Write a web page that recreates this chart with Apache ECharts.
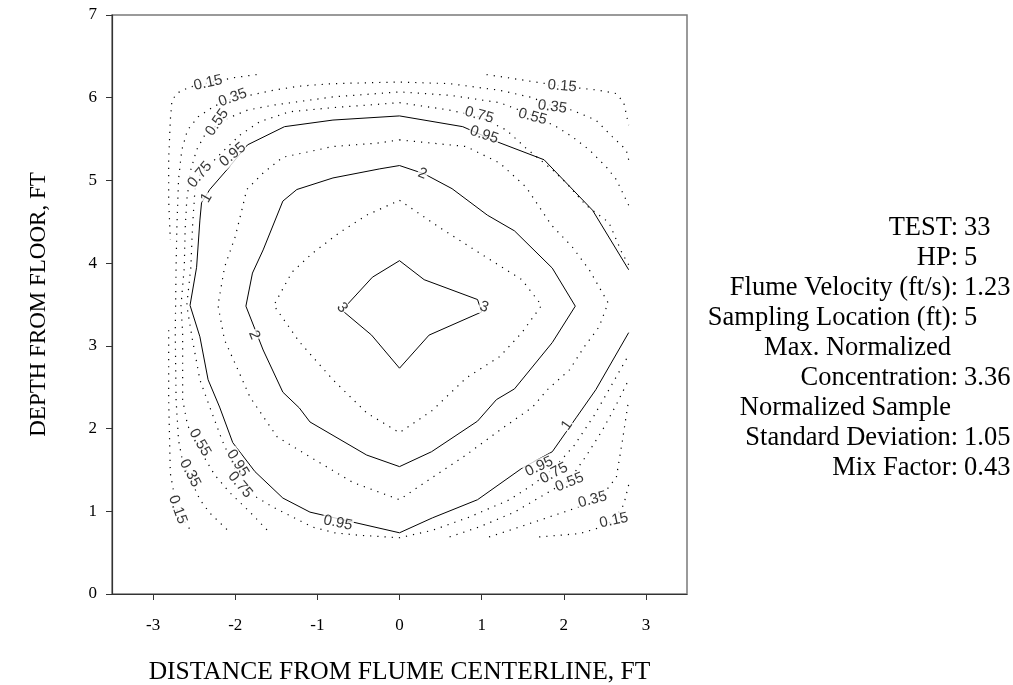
<!DOCTYPE html>
<html><head><meta charset="utf-8">
<script src="https://cdn.jsdelivr.net/npm/echarts@6.0.0/dist/echarts.min.js"></script>
<style>html,body{margin:0;padding:0;background:#fff}#c{width:1013px;height:685px}</style>
</head><body><div id="c"></div><script>
// ---- tick labels ----
const xTicks = [-3, -2, -1, 0, 1, 2, 3];
const yTicks = [0, 1, 2, 3, 4, 5, 6, 7];

// ---- contour polylines (data units: ft) ----
const c3 = [[0,4.03],[0.30,3.80],[0.95,3.56],[1.00,3.41],[0.36,3.13],[0,2.73],[-0.34,3.13],[-0.70,3.43],[-0.33,3.83],[0,4.03]];
const c25 = [[0,4.76],[0.49,4.43],[1.01,4.10],[1.49,3.80],[1.73,3.49],[1.49,3.16],[1.22,2.87],[0.81,2.61],[0.40,2.22],[0,1.95],[-0.40,2.19],[-0.81,2.59],[-1.22,3.05],[-1.53,3.49],[-1.31,3.89],[-1.06,4.12],[-0.73,4.37],[-0.40,4.58],[0,4.76]];
const c2 = [[0,5.18],[0.30,5.08],[0.64,4.90],[1.07,4.58],[1.40,4.39],[1.86,3.94],[2.14,3.48],[1.86,3.04],[1.40,2.48],[1.18,2.35],[0.95,2.09],[0.39,1.72],[0,1.54],[-0.40,1.68],[-1.09,2.08],[-1.22,2.25],[-1.42,2.44],[-1.66,2.95],[-1.87,3.48],[-1.79,3.88],[-1.66,4.16],[-1.42,4.75],[-1.25,4.89],[-0.81,5.03],[-0.24,5.14],[0,5.18]];
const c15 = [[0,5.49],[0.81,5.41],[1.22,5.21],[1.54,4.92],[1.85,4.46],[2.10,4.20],[2.31,3.92],[2.54,3.52],[2.43,3.23],[2.25,2.99],[2.07,2.71],[1.80,2.47],[1.62,2.26],[1.22,1.98],[0.81,1.68],[0.40,1.41],[0,1.14],[-0.57,1.35],[-1.06,1.64],[-1.49,1.90],[-1.82,2.38],[-1.98,2.74],[-2.13,3.07],[-2.21,3.49],[-2.13,3.95],[-2.00,4.32],[-1.91,4.68],[-1.86,4.89],[-1.66,5.09],[-1.42,5.28],[-0.81,5.41],[-0.28,5.45],[0,5.49]];
const c1 = [[2.79,3.92],[2.35,4.64],[1.76,5.25],[1.18,5.47],[0.77,5.65],[0,5.78],[-0.81,5.73],[-1.40,5.65],[-1.85,5.43],[-2.10,5.13],[-2.31,4.89],[-2.41,4.73],[-2.43,4.52],[-2.47,3.95],[-2.55,3.49],[-2.43,3.11],[-2.33,2.59],[-2.19,2.26],[-2.03,1.83],[-1.76,1.48],[-1.42,1.16],[-1.09,0.99],[-0.57,0.87],[0,0.74],[0.40,0.92],[0.95,1.14],[1.49,1.52],[1.86,1.72],[2.15,2.13],[2.39,2.47],[2.79,3.16]];
const c075 = [[2.79,3.98],[2.71,4.12],[2.55,4.49],[2.27,4.70],[2.03,4.97],[1.86,5.13],[1.54,5.39],[1.30,5.61],[0.97,5.77],[0.61,5.85],[0,5.94],[-0.81,5.88],[-1.34,5.83],[-1.70,5.71],[-1.94,5.55],[-2.13,5.37],[-2.31,5.19],[-2.43,5.07],[-2.49,4.89],[-2.52,4.44],[-2.54,3.95],[-2.59,3.49],[-2.52,3.07],[-2.43,2.59],[-2.31,2.26],[-2.16,1.86],[-2.00,1.50],[-1.74,1.17],[-1.54,1.05],[-1.30,0.93],[-1.06,0.81],[-0.79,0.74],[-0.49,0.71],[0,0.68],[0.40,0.77],[0.85,0.93],[1.34,1.14],[1.62,1.32],[1.88,1.52],[2.13,1.80],[2.37,2.16],[2.55,2.47],[2.79,2.89]];
const c055a = [[2.79,4.70],[2.64,5.01],[2.52,5.16],[2.31,5.37],[2.10,5.53],[1.91,5.65],[1.62,5.79],[1.22,5.94],[0.61,6.03],[0,6.07],[-0.81,6.01],[-1.54,5.91],[-1.85,5.85],[-2.07,5.76],[-2.22,5.67],[-2.37,5.55],[-2.47,5.37],[-2.54,5.13],[-2.59,4.76],[-2.61,4.40],[-2.62,3.95],[-2.66,3.49],[-2.64,3.16],[-2.64,2.35],[-2.58,2.04],[-2.49,1.86],[-2.37,1.64],[-2.25,1.44],[-2.07,1.23],[-1.82,0.99],[-1.58,0.74]];
const c055b = [[0.61,0.69],[0.97,0.81],[1.40,0.99],[1.76,1.20],[2.07,1.38],[2.28,1.68],[2.47,1.98],[2.64,2.29],[2.79,2.59]];
const c035a = [[2.79,5.25],[2.76,5.37],[2.59,5.53],[2.39,5.73],[2.10,5.85],[1.86,5.90],[1.62,6.00],[1.22,6.09],[0.61,6.17],[0,6.19],[-0.81,6.17],[-1.22,6.14],[-1.54,6.09],[-1.82,6.03],[-2.03,5.99],[-2.25,5.90],[-2.45,5.77],[-2.58,5.61],[-2.65,5.37],[-2.69,5.01],[-2.71,4.44],[-2.72,3.95],[-2.73,3.16],[-2.72,2.35],[-2.69,1.86],[-2.64,1.60],[-2.55,1.40],[-2.43,1.14],[-2.31,0.98],[-2.07,0.75]];
const c035b = [[1.09,0.69],[1.34,0.77],[1.79,0.92],[2.15,1.04],[2.35,1.11],[2.49,1.22],[2.64,1.41],[2.71,1.83],[2.79,2.35]];
const c015a = [[-1.74,6.28],[-2.03,6.24],[-2.33,6.18],[-2.55,6.13],[-2.70,6.06],[-2.77,5.97],[-2.79,5.73],[-2.81,5.25],[-2.81,4.76],[-2.79,4.28]];
const c015b = [[-2.81,3.19],[-2.81,2.35],[-2.79,1.46],[-2.71,1.02],[-2.53,0.75]];
const c015c = [[1.06,6.28],[1.46,6.22],[1.98,6.14],[2.43,6.09],[2.64,6.05],[2.73,5.94],[2.79,5.67]];
const c015d = [[1.70,0.69],[2.19,0.73],[2.43,0.80],[2.61,0.89],[2.73,1.08],[2.79,1.32]];

// ---- contour labels: text, position (ft) ----
const labelTexts = ['0.15','0.35','0.55','0.95','0.75','1','2','0.15','0.35','0.75','0.55','0.95','3','3','2','0.55','0.35','0.15','0.95','0.75','0.95','0.95','0.75','0.55','0.35','0.15','1'];
const labelPos = [[-2.33,6.18],[-2.03,6.00],[-2.22,5.70],[-2.03,5.31],[-2.43,5.07],[-2.35,4.79],[0.28,5.08],[1.98,6.14],[1.86,5.89],[0.97,5.79],[1.62,5.77],[1.03,5.55],[-0.70,3.46],[1.03,3.47],[-1.77,3.13],[-2.43,1.83],[-2.55,1.46],[-2.70,1.02],[-1.97,1.58],[-1.94,1.32],[-0.75,0.86],[1.70,1.54],[1.88,1.46],[2.07,1.35],[2.35,1.14],[2.61,0.89],[2.04,2.04]];
const labelAngles = [12,20,55,40,50,60,-22,-5,-8,-15,-15,-18,-50,-20,-68,-60,-62,-70,-58,-50,-12,25,28,22,15,12,55];

// ---- side annotation ----
const infoKeys = ['TEST:','HP:','Flume Velocity (ft/s):','Sampling Location (ft):','Max. Normalized','Concentration:','Normalized Sample','Standard Deviation:','Mix Factor:'];
const infoVals = ['33','5','1.23','5','','3.36','','1.05','0.43'];

const solidSets = [c3, c2, c1];
const dottedSets = [c25, c15, c075, c055a, c055b, c035a, c035b, c015a, c015b, c015c, c015d];

const chart = echarts.init(document.getElementById('c'), null, {renderer: 'canvas'});
const serif = 'Liberation Serif, Times New Roman, serif';
const sans = 'Liberation Sans, Arial, sans-serif';

const series = [];
solidSets.forEach(d => series.push({type:'line', data:d, showSymbol:false, silent:true, z:2,
  lineStyle:{color:'#000', width:1}}));
dottedSets.forEach(d => series.push({type:'line', data:d, showSymbol:false, silent:true, z:2,
  lineStyle:{color:'#000', width:1.2, type:[1.2,6]}}));
series.push({type:'scatter', symbolSize:0, z:5, silent:true,
  data: labelPos.map((p,i) => ({value:p, label:{rotate:labelAngles[i], formatter:labelTexts[i]}})),
  label:{show:true, position:'inside', color:'#000', fontFamily:sans, fontSize:15,
    backgroundColor:'#fff', padding:[0,1]}});

const graphics = [];
infoKeys.forEach((k,i) => {
  const y = 228 + 30*i;
  const noColon = !k.endsWith(':');
  graphics.push({type:'text', x: noColon ? 951 : 958, y:y,
    style:{text:k, font:'26.5px ' + serif, fill:'#000', textAlign:'right', textVerticalAlign:'middle'}});
  if (infoVals[i]) graphics.push({type:'text', x:964, y:y,
    style:{text:infoVals[i], font:'26.5px ' + serif, fill:'#000', textAlign:'left', textVerticalAlign:'middle'}});
});

chart.setOption({
  animation:false,
  backgroundColor:'#fff',
  grid:{left:112, right:326, top:15, bottom:91, show:true, borderColor:'#7a7a7a', borderWidth:1.5,
    containLabel:false, outerBoundsMode:'none'},
  xAxis:{type:'value', min:-3.5, max:3.5,
    axisLine:{show:true, onZero:false, lineStyle:{color:'#333', width:1.2}},
    axisTick:{show:true, length:6, customValues:xTicks, lineStyle:{color:'#333'}},
    axisLabel:{customValues:xTicks, color:'#000', fontFamily:serif, fontSize:17, margin:23},
    splitLine:{show:false},
    name:'DISTANCE FROM FLUME CENTERLINE, FT', nameLocation:'middle', nameGap:65,
    nameTextStyle:{color:'#000', fontFamily:serif, fontSize:25.5}},
  yAxis:{type:'value', min:0, max:7, interval:1,
    axisLine:{show:true, onZero:false, lineStyle:{color:'#333', width:1.2}},
    axisTick:{show:true, length:6, lineStyle:{color:'#333'}},
    axisLabel:{color:'#000', fontFamily:serif, fontSize:17, margin:15,
      formatter:v => yTicks.includes(v) ? String(v) : ''},
    splitLine:{show:false},
    name:'DEPTH FROM FLOOR, FT', nameLocation:'middle', nameGap:62,
    nameTextStyle:{color:'#000', fontFamily:serif, fontSize:23}},
  graphic:graphics,
  series:series
});
</script></body></html>
